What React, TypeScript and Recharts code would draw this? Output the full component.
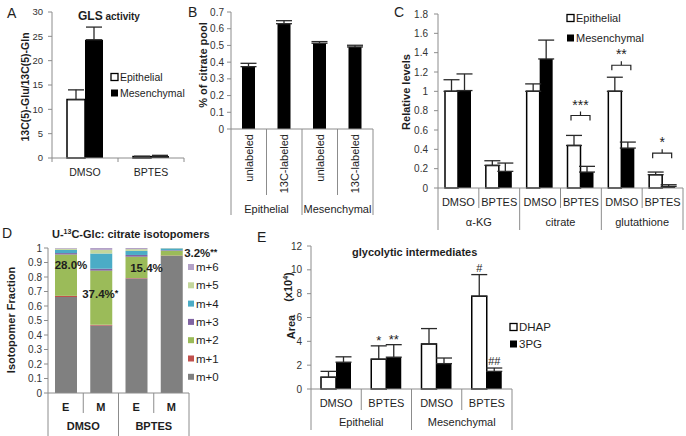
import React from 'react';
import { BarChart, Bar, XAxis, YAxis, ErrorBar, LabelList } from 'recharts';

const FONT = '"Liberation Sans", Arial, Helvetica, sans-serif';
const AXIS = '#8c8c8c';
const INK = '#1e1e1e';
const ERR = '#2a2a2a';

// A: GLS activity
const glsCategories = ['DMSO', 'BPTES'];
const glsEpithelial = [12.0, 0.3];
const glsEpithelialErr = [2.0, 0.05];
const glsMesenchymal = [24.3, 0.4];
const glsMesenchymalErr = [2.6, 0.15];
const glsTicks = [0, 5, 10, 15, 20, 25, 30];

// B: % of citrate pool
const poolLabels = ['unlabeled', '13C-labeled', 'unlabeled', '13C-labeled'];
const poolGroups = ['Epithelial', 'Mesenchymal'];
const poolValues = [0.373, 0.63, 0.513, 0.491];
const poolErr = [0.02, 0.018, 0.01, 0.01];
const poolTicks = [0, 0.1, 0.2, 0.3, 0.4, 0.5, 0.6, 0.7];

// C: relative levels
const relLabels = ['DMSO', 'BPTES', 'DMSO', 'BPTES', 'DMSO', 'BPTES'];
const relGroups = ['α-KG', 'citrate', 'glutathione'];
const relEpithelial = [1.0, 0.234, 1.0, 0.44, 1.0, 0.138];
const relEpithelialErr = [0.12, 0.048, 0.077, 0.104, 0.146, 0.027];
const relMesenchymal = [1.008, 0.172, 1.335, 0.165, 0.413, 0.017];
const relMesenchymalErr = [0.172, 0.086, 0.195, 0.059, 0.062, 0.017];
const relBracket: (number | null)[] = [null, null, null, 0.75, 1.27, 0.36];
const relStars = ['', '', '', '***', '**', '*'];
const relTicks = [0, 0.2, 0.4, 0.6, 0.8, 1, 1.2, 1.4, 1.6, 1.8];

// D: citrate isotopomers
const isoLabels = ['E', 'M', 'E', 'M'];
const isoGroups = ['DMSO', 'BPTES'];
const isoNames = ['m+0', 'm+1', 'm+2', 'm+3', 'm+4', 'm+5', 'm+6'];
const isoColors = ['#808080', '#c0504d', '#9bbb59', '#8064a2', '#4bacc6', '#c3d69b', '#b3a2c7'];
const isoM0 = [0.662, 0.465, 0.79, 0.946];
const isoM1 = [0.008, 0.005, 0.003, 0.002];
const isoM2 = [0.285, 0.374, 0.147, 0.033];
const isoM3 = [0.01, 0.013, 0.012, 0.004];
const isoM4 = [0.022, 0.105, 0.028, 0.012];
const isoM5 = [0.008, 0.025, 0.012, 0.002];
const isoM6 = [0.005, 0.013, 0.008, 0.001];
const isoPct = ['28.0%', '37.4%', '15.4%', '3.2%'];
const isoPctMark = ['', '*', '', '**'];
const isoPctOffset = [[5, 14], [-1, 27], [10, 15], [29, 6]];
const isoTicks = [0, 0.1, 0.2, 0.3, 0.4, 0.5, 0.6, 0.7, 0.8, 0.9, 1];

// E: glycolytic intermediates
const glyLabels = ['DMSO', 'BPTES', 'DMSO', 'BPTES'];
const glyGroups = ['Epithelial', 'Mesenchymal'];
const glyDHAP = [0.98, 2.5, 3.78, 7.79];
const glyDHAPErr = [0.5, 1.12, 1.29, 1.81];
const gly3PG = [2.25, 2.67, 2.13, 1.48];
const gly3PGErr = [0.45, 1.05, 0.47, 0.28];
const glyDHAPMark = ['', '*', '', '#'];
const gly3PGMark = ['', '**', '', '##'];
const glyTicks = [0, 2, 4, 6, 8, 10, 12];

const glsData = glsCategories.map((c, i) => ({
  key: c,
  epi: glsEpithelial[i],
  epiErr: [0, glsEpithelialErr[i]],
  mes: glsMesenchymal[i],
  mesErr: [0, glsMesenchymalErr[i]],
}));
const poolData = poolLabels.map((c, i) => ({ key: `${c}-${i}`, v: poolValues[i], err: [0, poolErr[i]] }));
const relData = relLabels.map((c, i) => ({
  key: `${c}-${i}`,
  epi: relEpithelial[i],
  epiErr: [0, relEpithelialErr[i]],
  mes: relMesenchymal[i],
  mesErr: [0, relMesenchymalErr[i]],
}));
const isoSeries = [isoM0, isoM1, isoM2, isoM3, isoM4, isoM5, isoM6];
const isoData = isoLabels.map((c, i) => {
  const row: Record<string, number | string> = { key: `${c}-${i}` };
  isoSeries.forEach((s, k) => (row[`m${k}`] = s[i]));
  return row;
});
const glyData = glyLabels.map((c, i) => ({
  key: `${c}-${i}`,
  dhap: glyDHAP[i],
  dhapErr: [0, glyDHAPErr[i]],
  pg: gly3PG[i],
  pgErr: [0, gly3PGErr[i]],
}));

interface TickSpec {
  labels: string[];
  groups?: string[];
  perGroup?: number;
  band: number;
  fontSize: number;
  bold?: boolean;
  vertical?: boolean;
  labelDy: number;
  groupDy?: number;
  shortLen: number;
  longLen: number;
}

function multiTick(spec: TickSpec) {
  return (props: any) => {
    const { x, y, payload, index } = props;
    const i = index ?? payload?.index ?? 0;
    const half = payload?.offset > 0 ? payload.offset : spec.band / 2;
    const n = spec.labels.length;
    const per = spec.perGroup ?? 1;
    const weight = spec.bold ? 'bold' : 'normal';
    const len = (k: number) => (spec.groups ? (k % per === 0 ? spec.longLen : spec.shortLen) : spec.shortLen);
    const left = x - half;
    return (
      <g>
        <line x1={left} x2={left} y1={y} y2={y + len(i)} stroke={AXIS} />
        {i === n - 1 && <line x1={x + half} x2={x + half} y1={y} y2={y + len(n)} stroke={AXIS} />}
        {spec.vertical ? (
          <text
            x={x + 4}
            y={y + 5}
            transform={`rotate(-90, ${x + 4}, ${y + 5})`}
            textAnchor="end"
            fontSize={spec.fontSize}
            fill={INK}
          >
            {spec.labels[i]}
          </text>
        ) : (
          <text x={x} y={y + spec.labelDy} textAnchor="middle" fontSize={spec.fontSize} fontWeight={weight} fill={INK}>
            {spec.labels[i]}
          </text>
        )}
        {spec.groups && i % per === 0 && (
          <text
            x={left + per * half}
            y={y + (spec.groupDy ?? 0)}
            textAnchor="middle"
            fontSize={spec.fontSize}
            fontWeight={weight}
            fill={INK}
          >
            {spec.groups[i / per]}
          </text>
        )}
      </g>
    );
  };
}

function boxOf(props: any) {
  const vb = props.viewBox ?? props;
  const h = Math.abs(vb.height ?? 0);
  const top = vb.height < 0 ? vb.y + vb.height : vb.y;
  return { x: vb.x, top, width: vb.width, h };
}

// bracket + stars over the pair in panel C
function relBracketLabel(props: any) {
  const i = props.index;
  const level = relBracket[i];
  const val = relEpithelial[i];
  const { x, top, width, h } = boxOf(props);
  if (level == null || !h) return null;
  const base = top + h;
  const yy = base - (level / val) * h;
  const x0 = x + width / 2 - 3;
  const x1 = x + width * 1.5 + 3;
  const cx = x + width;
  return (
    <g>
      <path
        d={`M${x0},${yy + 5}L${x0},${yy}L${x1},${yy}L${x1},${yy + 5}M${cx},${yy}L${cx},${yy - 4}`}
        stroke="#222"
        strokeWidth={1.2}
        fill="none"
      />
      <text x={cx} y={yy - 6} textAnchor="middle" fontSize={14} fill={INK}>
        {relStars[i]}
      </text>
    </g>
  );
}

function errMark(values: number[], errs: number[], marks: string[]) {
  return (props: any) => {
    const i = props.index;
    const { x, top, width, h } = boxOf(props);
    if (!marks[i] || !h) return null;
    const base = top + h;
    const errTop = base - ((values[i] + errs[i]) / values[i]) * h;
    const star = marks[i].includes('*');
    return (
      <text x={x + width / 2} y={errTop - (star ? 1 : 3)} textAnchor="middle" fontSize={star ? 13 : 11} fill={INK}>
        {marks[i]}
      </text>
    );
  };
}

function isoPctLabel(props: any) {
  const i = props.index;
  const { x, top, width } = boxOf(props);
  const [dx, dy] = isoPctOffset[i];
  return (
    <text x={x + width / 2 + dx} y={top + dy} textAnchor="middle" fontSize={11.5} fontWeight="bold" fill={INK}>
      {isoPct[i]}
      {isoPctMark[i] && (
        <tspan fontSize={9} dy={-2}>
          {isoPctMark[i]}
        </tspan>
      )}
    </text>
  );
}

const yTickStyle = { fontSize: 10, fill: '#333' };

function LegendBox({ x, y, fill, label, size = 11, box = 7 }: any) {
  return (
    <g>
      <rect
        x={x}
        y={y - box / 2}
        width={box}
        height={box}
        fill={fill}
        stroke={fill === '#fff' ? '#000' : 'none'}
        strokeWidth={1.3}
      />
      <text x={x + box + 2} y={y + size * 0.36} fontSize={size} fill={INK}>
        {label}
      </text>
    </g>
  );
}

function Overlay() {
  const yLabel = (cx: number, cy: number, text: React.ReactNode, size = 11) => (
    <text
      x={cx + 4}
      y={cy}
      transform={`rotate(-90, ${cx + 4}, ${cy})`}
      textAnchor="middle"
      fontSize={size}
      fontWeight="bold"
      fill={INK}
    >
      {text}
    </text>
  );
  return (
    <svg width={686} height={436} style={{ position: 'absolute', left: 0, top: 0, pointerEvents: 'none' }}>
      <g fontSize={14} fill={INK}>
        <text x={7} y={18}>A</text>
        <text x={188} y={17}>B</text>
        <text x={394} y={17}>C</text>
        <text x={2} y={238}>D</text>
        <text x={257} y={242}>E</text>
      </g>
      <text x={78} y={20} fontWeight="bold" fill={INK}>
        <tspan fontSize={12}>GLS</tspan>
        <tspan fontSize={10}> activity</tspan>
      </text>
      <text x={52} y={238} fontWeight="bold" fontSize={11} fill={INK}>
        U-<tspan fontSize={7} dy={-4}>13</tspan>
        <tspan dy={4}>C-Glc: citrate isotopomers</tspan>
      </text>
      <text x={352} y={256} fontWeight="bold" fontSize={11} fill={INK}>
        glycolytic intermediates
      </text>

      {yLabel(25, 87, '13C(5)-Glu/13C(5)-Gln', 10.5)}
      {yLabel(203, 65, '% of citrate pool')}
      {yLabel(406, 92, 'Relative levels')}
      {yLabel(11, 320, 'Isotopomer Fraction')}
      {yLabel(291, 327, 'Area')}
      <text
        x={292}
        y={287}
        transform={`rotate(-90, 292, 287)`}
        textAnchor="middle"
        fontSize={11}
        fontWeight="bold"
        fill={INK}
      >
        (x10<tspan fontSize={7} dy={-4}>4</tspan>
        <tspan dy={4}>)</tspan>
      </text>

      <LegendBox x={111} y={77} fill="#fff" label="Epithelial" size={10.5} />
      <LegendBox x={111} y={93} fill="#000" label="Mesenchymal" size={10.5} />
      <LegendBox x={567} y={18} fill="#fff" label="Epithelial" size={11} />
      <LegendBox x={567} y={38} fill="#000" label="Mesenchymal" size={11} />
      <LegendBox x={510} y={327} fill="#fff" label="DHAP" size={11.5} />
      <LegendBox x={510} y={344} fill="#000" label="3PG" size={11.5} />
      {isoNames
        .map((name, k) => ({ name, color: isoColors[k] }))
        .reverse()
        .map((it, j) => (
          <LegendBox key={it.name} x={188} y={267 + j * 18.3} fill={it.color} label={it.name} size={11.5} box={6} />
        ))}
    </svg>
  );
}

export default function App() {
  return (
    <div
      style={{
        position: 'absolute',
        left: 0,
        top: 0,
        width: 686,
        height: 436,
        background: '#fff',
        fontFamily: FONT,
        overflow: 'hidden',
      }}
    >
      {/* A */}
      <div style={{ position: 'absolute', left: 0, top: 0 }}>
        <BarChart width={190} height={200} data={glsData} margin={{ top: 12, right: 6, bottom: 0, left: 0 }} barGap={0}>
          <XAxis
            dataKey="key"
            height={42}
            interval={0}
            tickSize={0}
            tickMargin={0}
            tickLine={false}
            axisLine={{ stroke: AXIS }}
            tick={multiTick({ labels: glsCategories, band: 66, fontSize: 10.5, labelDy: 18, shortLen: 4, longLen: 4 })}
          />
          <YAxis
            width={52}
            domain={[0, 30]}
            ticks={glsTicks}
            interval={0}
            tickSize={4}
            tickMargin={5}
            tick={{ fontSize: 9.5, fill: '#333' }}
            axisLine={{ stroke: AXIS }}
            tickLine={{ stroke: AXIS }}
          />
          <Bar dataKey="epi" fill="#fff" stroke="#000" strokeWidth={1.5} barSize={18} isAnimationActive={false}>
            <ErrorBar dataKey="epiErr" width={8} strokeWidth={1.3} stroke={ERR} />
          </Bar>
          <Bar dataKey="mes" fill="#000" barSize={18} isAnimationActive={false}>
            <ErrorBar dataKey="mesErr" width={8} strokeWidth={1.3} stroke={ERR} />
          </Bar>
        </BarChart>
      </div>

      {/* B */}
      <div style={{ position: 'absolute', left: 175, top: 0 }}>
        <BarChart width={205} height={225} data={poolData} margin={{ top: 12, right: 7, bottom: 0, left: 0 }}>
          <XAxis
            dataKey="key"
            height={96}
            interval={0}
            tickSize={0}
            tickMargin={0}
            tickLine={false}
            axisLine={{ stroke: AXIS }}
            tick={multiTick({
              labels: poolLabels,
              groups: poolGroups,
              perGroup: 2,
              band: 35.5,
              fontSize: 11,
              vertical: true,
              labelDy: 0,
              groupDy: 84,
              shortLen: 66,
              longLen: 86,
            })}
          />
          <YAxis
            width={56}
            domain={[0, 0.7]}
            ticks={poolTicks}
            interval={0}
            tickSize={4}
            tickMargin={3}
            tick={yTickStyle}
            axisLine={{ stroke: AXIS }}
            tickLine={{ stroke: AXIS }}
          />
          <Bar dataKey="v" fill="#000" barSize={13} isAnimationActive={false}>
            <ErrorBar dataKey="err" width={8} strokeWidth={1.3} stroke={ERR} />
          </Bar>
        </BarChart>
      </div>

      {/* C */}
      <div style={{ position: 'absolute', left: 380, top: 0 }}>
        <BarChart width={306} height={236} data={relData} margin={{ top: 14, right: 3, bottom: 0, left: 0 }} barGap={0}>
          <XAxis
            dataKey="key"
            height={48}
            interval={0}
            tickSize={0}
            tickMargin={0}
            tickLine={false}
            axisLine={{ stroke: AXIS }}
            tick={multiTick({
              labels: relLabels,
              groups: relGroups,
              perGroup: 2,
              band: 40.8,
              fontSize: 11,
              labelDy: 18,
              groupDy: 38,
              shortLen: 20,
              longLen: 42,
            })}
          />
          <YAxis
            width={58}
            domain={[0, 1.8]}
            ticks={relTicks}
            interval={0}
            tickSize={4}
            tickMargin={6}
            tick={yTickStyle}
            axisLine={{ stroke: AXIS }}
            tickLine={{ stroke: AXIS }}
          />
          <Bar dataKey="epi" fill="#fff" stroke="#000" strokeWidth={1.5} barSize={13} isAnimationActive={false}>
            <ErrorBar dataKey="epiErr" width={8} strokeWidth={1.3} stroke={ERR} />
            <LabelList dataKey="epi" content={relBracketLabel} />
          </Bar>
          <Bar dataKey="mes" fill="#000" barSize={13} isAnimationActive={false}>
            <ErrorBar dataKey="mesErr" width={8} strokeWidth={1.3} stroke={ERR} />
          </Bar>
        </BarChart>
      </div>

      {/* D */}
      <div style={{ position: 'absolute', left: 0, top: 230 }}>
        <BarChart width={232} height={206} data={isoData} margin={{ top: 18, right: 43, bottom: 0, left: 0 }}>
          <XAxis
            dataKey="key"
            height={43}
            interval={0}
            tickSize={0}
            tickMargin={0}
            tickLine={false}
            axisLine={{ stroke: AXIS }}
            tick={multiTick({
              labels: isoLabels,
              groups: isoGroups,
              perGroup: 2,
              band: 35.25,
              fontSize: 11,
              bold: true,
              labelDy: 18,
              groupDy: 37,
              shortLen: 20,
              longLen: 43,
            })}
          />
          <YAxis
            width={48}
            domain={[0, 1]}
            ticks={isoTicks}
            interval={0}
            tickSize={4}
            tickMargin={2}
            tick={yTickStyle}
            axisLine={{ stroke: AXIS }}
            tickLine={{ stroke: AXIS }}
          />
          {isoNames.map((name, k) => (
            <Bar key={name} dataKey={`m${k}`} stackId="iso" fill={isoColors[k]} barSize={22} isAnimationActive={false}>
              {k === 2 && <LabelList dataKey="m2" content={isoPctLabel} />}
            </Bar>
          ))}
        </BarChart>
      </div>

      {/* E */}
      <div style={{ position: 'absolute', left: 250, top: 230 }}>
        <BarChart width={265} height={206} data={glyData} margin={{ top: 16, right: 3, bottom: 0, left: 0 }} barGap={0}>
          <XAxis
            dataKey="key"
            height={47}
            interval={0}
            tickSize={0}
            tickMargin={0}
            tickLine={false}
            axisLine={{ stroke: AXIS }}
            tick={multiTick({
              labels: glyLabels,
              groups: glyGroups,
              perGroup: 2,
              band: 50.5,
              fontSize: 11,
              labelDy: 18,
              groupDy: 37,
              shortLen: 21,
              longLen: 41,
            })}
          />
          <YAxis
            width={61}
            domain={[0, 12]}
            ticks={glyTicks}
            interval={0}
            tickSize={4}
            tickMargin={5}
            tick={yTickStyle}
            axisLine={{ stroke: AXIS }}
            tickLine={{ stroke: AXIS }}
          />
          <Bar dataKey="dhap" fill="#fff" stroke="#000" strokeWidth={1.5} barSize={15} isAnimationActive={false}>
            <ErrorBar dataKey="dhapErr" width={8} strokeWidth={1.3} stroke={ERR} />
            <LabelList dataKey="dhap" content={errMark(glyDHAP, glyDHAPErr, glyDHAPMark)} />
          </Bar>
          <Bar dataKey="pg" fill="#000" barSize={15} isAnimationActive={false}>
            <ErrorBar dataKey="pgErr" width={8} strokeWidth={1.3} stroke={ERR} />
            <LabelList dataKey="pg" content={errMark(gly3PG, gly3PGErr, gly3PGMark)} />
          </Bar>
        </BarChart>
      </div>

      <Overlay />
    </div>
  );
}
